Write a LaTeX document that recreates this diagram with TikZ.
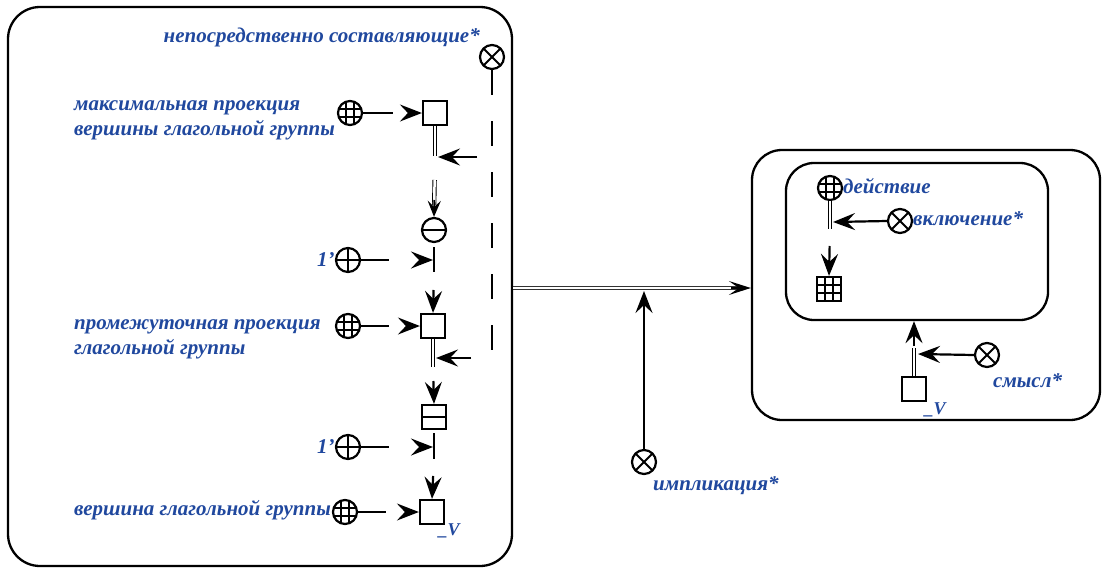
\documentclass[tikz,border=0pt]{standalone}
\usepackage{fontspec}
\setmainfont{Liberation Serif}
\usetikzlibrary{arrows.meta}
\definecolor{txtblue}{RGB}{32,72,158}
\tikzset{
  >={Stealth[length=22pt,width=17pt,inset=8pt]},
  sym/.style={draw, line width=2.2pt, minimum size=24pt, inner sep=0pt},
  otimesn/.style={sym, circle, path picture={\draw[line width=1.9pt]
     (path picture bounding box.north west) -- (path picture bounding box.south east)
     (path picture bounding box.north east) -- (path picture bounding box.south west);}},
  oplusn/.style={sym, circle, path picture={\draw[line width=1.9pt]
     (path picture bounding box.north) -- (path picture bounding box.south)
     (path picture bounding box.west) -- (path picture bounding box.east);}},
  ominusn/.style={sym, circle, path picture={\draw[line width=1.9pt]
     (path picture bounding box.west) -- (path picture bounding box.east);}},
  gridc/.style={sym, circle, path picture={\draw[line width=1.3pt]
     ([xshift=-4pt]path picture bounding box.north) -- ([xshift=-4pt]path picture bounding box.south)
     ([xshift=4pt]path picture bounding box.north) -- ([xshift=4pt]path picture bounding box.south)
     ([yshift=-4pt]path picture bounding box.west) -- ([yshift=-4pt]path picture bounding box.east)
     ([yshift=4pt]path picture bounding box.west) -- ([yshift=4pt]path picture bounding box.east);}},
  sqn/.style={sym, rectangle},
  sqminus/.style={sqn, path picture={\draw[line width=1.9pt]
     (path picture bounding box.west) -- (path picture bounding box.east);}},
  gridsq/.style={sqn, path picture={\draw[line width=1.3pt]
     ([xshift=-4pt]path picture bounding box.north) -- ([xshift=-4pt]path picture bounding box.south)
     ([xshift=4pt]path picture bounding box.north) -- ([xshift=4pt]path picture bounding box.south)
     ([yshift=-4pt]path picture bounding box.west) -- ([yshift=-4pt]path picture bounding box.east)
     ([yshift=4pt]path picture bounding box.west) -- ([yshift=4pt]path picture bounding box.east);}},
  lbl/.style={text=txtblue, font=\bfseries\itshape\fontsize{21}{25}\selectfont, inner sep=0pt, align=left},
  vlbl/.style={text=txtblue, font=\bfseries\itshape\fontsize{18}{20}\selectfont, inner sep=0pt},
  ln/.style={line width=2.2pt},
  lnt/.style={line width=1.8pt},
  dbl/.style={double, double distance=2.5pt, line width=0.9pt},
  bigbox/.style={draw, line width=2.3pt, inner sep=0pt},
}
\begin{document}
\begin{tikzpicture}[x=1pt,y=-1pt]
\useasboundingbox (0,0) rectangle (1105,571);
% boxes
\node[bigbox, rounded corners=32pt, minimum width=504pt, minimum height=559pt] (LB) at (260,286.5) {};
\node[bigbox, rounded corners=30pt, minimum width=348pt, minimum height=270pt] (RB) at (926,285) {};
\node[bigbox, rounded corners=28pt, minimum width=262pt, minimum height=157pt] (IB) at (917,241.5) {};

% left column
\node[lbl, anchor=east] (nsT) at (480,37) {непосредственно составляющие*};
\node[otimesn] (nsX) at (492,57) {};
\coordinate (nsE) at (492,353);
\draw[ln, dash pattern=on 25pt off 26pt] (nsX.south) -- (nsE);

\node[sqn] (s1) at (435,113) {};
\node[gridc] (g1) at (350,113) {};
\node[lbl, anchor=west] (t1) at (74,120) {максимальная проекция\\вершины глагольной группы};
\draw[ln,->, dash pattern=on 30pt off 20pt] (g1) -- (s1);
\coordinate (c1) at (435,156);
\draw[dbl] (s1.south) -- (c1);
\coordinate (d1) at (477,157);
\coordinate (h1) at (438,157);
\draw[lnt,->] (d1) -- (h1);

\node[ominusn] (mn) at (434,230) {};
\draw[dbl, shorten <=24pt, shorten >=12pt] (c1) -- (mn.north);
\draw[lnt,-{Stealth[length=16pt,width=13pt,inset=6pt]}, shorten <=44pt] (c1) -- (mn.north);
\coordinate (b1) at (434,272);
\draw[ln, shorten <=4pt] (mn.south) -- (b1);
\node[oplusn] (p1) at (348,260) {};
\node[lbl, anchor=east] (p1l) at (p1.west) {1'};
\coordinate (b1m) at (433,260);
\draw[ln,->, dash pattern=on 28pt off 40pt] (p1) -- (b1m);

\node[sqn] (s2) at (433,326) {};
\draw[ln,->, shorten <=18pt] (b1) -- (s2.north);
\node[gridc] (g2) at (348,326) {};
\node[lbl, anchor=west] (t2) at (74,339) {промежуточная проекция\\глагольной группы};
\draw[ln,->, dash pattern=on 28pt off 20pt] (g2) -- (s2);
\coordinate (c2) at (433,367);
\draw[dbl] (s2.south) -- (c2);
\coordinate (d2) at (471,358);
\coordinate (h2) at (436,358);
\draw[lnt,->] (d2) -- (h2);

\node[sqminus] (sm) at (434,417) {};
\draw[ln,->, shorten <=14pt] (c2) -- (sm.north);
\coordinate (b2) at (434,459);
\draw[ln, shorten <=3pt] (sm.south) -- (b2);
\node[oplusn] (p2) at (348,447) {};
\node[lbl, anchor=east] (p2l) at (p2.west) {1'};
\coordinate (b2m) at (433,447);
\draw[ln,->, dash pattern=on 28pt off 40pt] (p2) -- (b2m);

\node[sqn] (s3) at (432,512) {};
\draw[ln,->, shorten <=17pt] (b2) -- (s3.north);
\node[gridc] (g3) at (345,512) {};
\node[lbl, anchor=west] (t3) at (74,510) {вершина глагольной группы};
\draw[ln,->, dash pattern=on 28pt off 20pt] (g3) -- (s3);
\node[vlbl] (v1) at (449,531) {\_V};

% middle
\coordinate (m) at (600,288);
\draw[double, double distance=2.6pt, line width=1pt, draw=black!80, shorten >=12pt]
      (LB.east |- m) -- (RB.west |- m);
\draw[line width=1.4pt, -{Stealth[length=22pt,width=14pt,inset=10pt]}, shorten <=218pt]
      (LB.east |- m) -- (RB.west |- m);
\node[otimesn] (iX) at (644,462) {};
\coordinate (iT) at (644,291);
\draw[ln,->] (iX.north) -- (iT);
\node[lbl, anchor=west] (iL) at (653,486) {импликация*};

% right
\node[gridc] (gc) at (830,188) {};
\node[lbl, anchor=west] (gcl) at (843,186) {действие};
\coordinate (c3) at (830,229);
\draw[dbl] (gc.south) -- (c3);
\node[otimesn] (vX) at (900,221) {};
\node[lbl, anchor=west] (vXl) at (913,219) {включение*};
\coordinate (h3) at (833,222);
\draw[ln,->] (vX.west) -- (h3);
\node[gridsq] (gs) at (829,289) {};
\draw[ln,->, shorten <=17pt] (c3) -- (gs.north);

\node[sqn] (sR) at (914,389) {};
\node[vlbl] (v2) at (935,410) {\_V};
\coordinate (c4) at (914,348);
\draw[dbl] (sR.north) -- (c4);
\draw[ln,->, shorten <=2pt] (c4) -- (c4 |- IB.south);
\node[otimesn] (smX) at (987,355) {};
\coordinate (h4) at (918,354);
\draw[ln,->] (smX.west) -- (h4);
\node[lbl, anchor=west] (smL) at (993,381) {смысл*};
\end{tikzpicture}
\end{document}
